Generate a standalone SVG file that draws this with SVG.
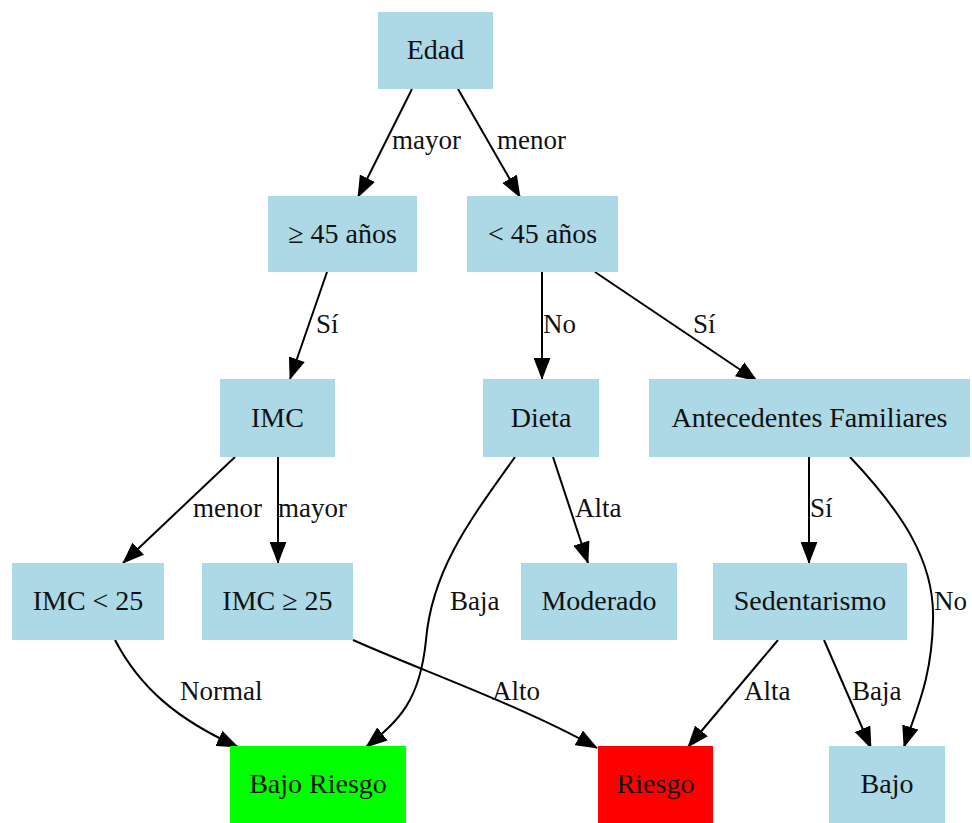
<svg xmlns="http://www.w3.org/2000/svg" width="972" height="823" viewBox="0 0 972 823">
<style>
.n{fill:#add8e6}
.t{font-family:"Liberation Serif","Times New Roman",serif;font-size:28px;fill:#111;text-anchor:middle}
.l{font-family:"Liberation Serif","Times New Roman",serif;font-size:27px;fill:#111}
.e{fill:none;stroke:#000;stroke-width:2;marker-end:url(#a)}
</style>
<defs>
<marker id="a" markerUnits="userSpaceOnUse" markerWidth="22" markerHeight="17" viewBox="0 0 21 16" refX="20" refY="8" orient="auto">
<path d="M0,0 L21,8 L0,16 z" fill="#000"/>
</marker>
</defs>
<rect width="972" height="823" fill="#fff"/>
<g id="edges">
<path class="e" d="M412,89 L358,197"/>
<path class="e" d="M458,89 L520,197"/>
<path class="e" d="M327,272 L290,379"/>
<path class="e" d="M542,272 L542,379"/>
<path class="e" d="M595,272 L757,381"/>
<path class="e" d="M235,457 L123,563"/>
<path class="e" d="M278,457 L278,563"/>
<path class="e" d="M553,457 L588,563"/>
<path class="e" d="M515,457 C470,520 432,570 426,640 C420,700 400,720 366,747"/>
<path class="e" d="M809,457 L809,563"/>
<path class="e" d="M850,457 C900,510 935,560 933,620 C932,680 915,712 904,747"/>
<path class="e" d="M115,640 C140,688 178,720 238,747"/>
<path class="e" d="M353,640 C420,670 520,705 597,748"/>
<path class="e" d="M778,640 L688,747"/>
<path class="e" d="M824,640 L871,748"/>
<text class="l" x="392" y="149">mayor</text>
<text class="l" x="497" y="149">menor</text>
<text class="l" x="316" y="333">Sí</text>
<text class="l" x="543" y="333">No</text>
<text class="l" x="693" y="333">Sí</text>
<text class="l" x="193" y="517">menor</text>
<text class="l" x="278" y="517">mayor</text>
<text class="l" x="575" y="517">Alta</text>
<text class="l" x="810" y="517">Sí</text>
<text class="l" x="450" y="610">Baja</text>
<text class="l" x="934" y="610">No</text>
<text class="l" x="180" y="700">Normal</text>
<text class="l" x="492" y="700">Alto</text>
<text class="l" x="744" y="700">Alta</text>
<text class="l" x="852" y="700">Baja</text>
</g>
<g id="edad"><rect class="n" x="378" y="12" width="115" height="77"/><text class="t" x="435.5" y="59">Edad</text></g>
<g id="mayor45"><rect class="n" x="268" y="196" width="149" height="76"/><text class="t" x="342.5" y="243">≥ 45 años</text></g>
<g id="menor45"><rect class="n" x="467" y="196" width="151" height="76"/><text class="t" x="542.5" y="243">&lt; 45 años</text></g>
<g id="imc"><rect class="n" x="220" y="379" width="115" height="78"/><text class="t" x="277.5" y="427">IMC</text></g>
<g id="dieta"><rect class="n" x="483" y="379" width="116" height="78"/><text class="t" x="541" y="427">Dieta</text></g>
<g id="antecedentes"><rect class="n" x="649" y="379" width="321" height="78"/><text class="t" x="809.5" y="427">Antecedentes Familiares</text></g>
<g id="imc_menor"><rect class="n" x="12" y="563" width="152" height="77"/><text class="t" x="88" y="610">IMC &lt; 25</text></g>
<g id="imc_mayor"><rect class="n" x="202" y="563" width="151" height="77"/><text class="t" x="277.5" y="610">IMC ≥ 25</text></g>
<g id="moderado"><rect class="n" x="521" y="563" width="156" height="77"/><text class="t" x="599" y="610">Moderado</text></g>
<g id="sedentarismo"><rect class="n" x="713" y="563" width="194" height="77"/><text class="t" x="810" y="610">Sedentarismo</text></g>
<g id="bajo_riesgo"><rect x="230" y="746" width="176" height="77" fill="#00ff00"/><text class="t" x="318" y="793">Bajo Riesgo</text></g>
<g id="riesgo"><rect x="598" y="746" width="115" height="77" fill="#ff0000"/><text class="t" x="655.5" y="793">Riesgo</text></g>
<g id="bajo"><rect class="n" x="829" y="746" width="116" height="77"/><text class="t" x="887" y="793">Bajo</text></g>
</svg>
